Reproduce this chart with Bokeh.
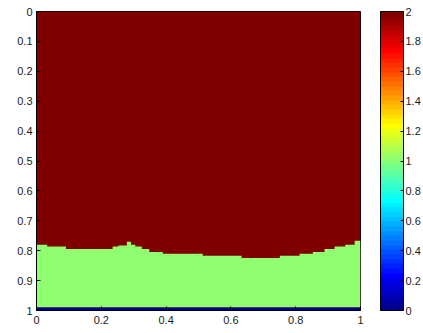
from bokeh.plotting import figure
from bokeh.models import (Range1d, LinearColorMapper, ColorBar, FixedTicker,
                          ColumnDataSource)
from bokeh.embed import file_html
from bokeh.resources import INLINE

# ---- data ----
seg_x0 = [0.0, 0.033, 0.091, 0.235, 0.253, 0.279, 0.292, 0.305, 0.325, 0.348,
          0.390, 0.513, 0.633, 0.751, 0.812, 0.853, 0.889, 0.920, 0.953, 0.982]
seg_x1 = seg_x0[1:] + [1.0]
interface_depth = [0.780, 0.786, 0.794, 0.786, 0.783, 0.770, 0.780, 0.786, 0.794, 0.804,
                   0.810, 0.817, 0.824, 0.817, 0.810, 0.804, 0.794, 0.786, 0.780, 0.767]
upper_value = 2.0
lower_value = 1.0
floor_value = 0.0
floor_top = 0.990

x_ticks = [0, 0.2, 0.4, 0.6, 0.8, 1]
x_tick_labels = ["0", "0.2", "0.4", "0.6", "0.8", "1"]
y_ticks = [0, 0.1, 0.2, 0.3, 0.4, 0.5, 0.6, 0.7, 0.8, 0.9, 1]
y_tick_labels = ["0", "0.1", "0.2", "0.3", "0.4", "0.5", "0.6", "0.7", "0.8", "0.9", "1"]
cbar_ticks = [0, 0.2, 0.4, 0.6, 0.8, 1, 1.2, 1.4, 1.6, 1.8, 2]
cbar_tick_labels = ["0", "0.2", "0.4", "0.6", "0.8", "1", "1.2", "1.4", "1.6", "1.8", "2"]
c_low, c_high = 0.0, 2.0


# MATLAB jet(64) colormap
def jet(m=64):
    import math
    n = math.ceil(m / 4)
    u = [i / n for i in range(1, n + 1)] + [1.0] * (n - 1) + [i / n for i in range(n, 0, -1)]
    g0 = math.ceil(n / 2) - (1 if m % 4 == 1 else 0)
    J = [[0.0, 0.0, 0.0] for _ in range(m)]
    for k, uk in enumerate(u, start=1):
        g = g0 + k
        r = g + n
        b = g - n
        if 1 <= r <= m:
            J[r - 1][0] = uk
        if 1 <= g <= m:
            J[g - 1][1] = uk
        if 1 <= b <= m:
            J[b - 1][2] = uk
    return ["#%02x%02x%02x" % tuple(int(round(c * 255)) for c in row) for row in J]


palette = jet(64)
mapper = LinearColorMapper(palette=palette, low=c_low, high=c_high)

FONT = "Liberation Sans"
TXT = "#1a1a1a"

p = figure(width=423, height=333, output_backend="svg", toolbar_location=None,
           x_range=Range1d(0, 1), y_range=Range1d(1, 0),
           min_border_left=36, min_border_top=11, min_border_bottom=23,
           min_border_right=62, background_fill_color="white",
           border_fill_color="white", outline_line_color="black")
p.grid.visible = False

# upper region
upper = ColumnDataSource(dict(left=[0.0], right=[1.0], top=[0.0], bottom=[1.0],
                              val=[upper_value]))
p.quad(left="left", right="right", top="top", bottom="bottom", source=upper,
       fill_color={"field": "val", "transform": mapper}, line_color=None)

# lower region below the stepped interface, as one polygon
xs_lower, ys_lower = [], []
for x0, x1, d in zip(seg_x0, seg_x1, interface_depth):
    xs_lower += [x0, x1]
    ys_lower += [d, d]
xs_lower += [1.0, 0.0]
ys_lower += [floor_top, floor_top]
lower = ColumnDataSource(dict(xs=[xs_lower], ys=[ys_lower], val=[lower_value]))
p.patches(xs="xs", ys="ys", source=lower,
          fill_color={"field": "val", "transform": mapper}, line_color=None)

# floor row
floor = ColumnDataSource(dict(left=[0.0], right=[1.0], top=[floor_top], bottom=[1.0],
                              val=[floor_value]))
p.quad(left="left", right="right", top="top", bottom="bottom", source=floor,
       fill_color={"field": "val", "transform": mapper}, line_color=None)

for ax, ticks, labels in ((p.xaxis[0], x_ticks, x_tick_labels),
                          (p.yaxis[0], y_ticks, y_tick_labels)):
    ax.ticker = FixedTicker(ticks=ticks)
    ax.major_label_overrides = dict(zip(ticks, labels))
    ax.minor_tick_line_color = None
    ax.major_tick_in = 4
    ax.major_tick_out = 0
    ax.major_tick_line_color = "black"
    ax.axis_line_color = "black"
    ax.major_label_text_font = FONT
    ax.major_label_text_font_size = "11px"
    ax.major_label_text_color = TXT
p.xaxis.major_label_standoff = 5
p.yaxis.major_label_standoff = 4

cb = ColorBar(color_mapper=mapper, ticker=FixedTicker(ticks=cbar_ticks),
              major_label_overrides=dict(zip(cbar_ticks, cbar_tick_labels)),
              width=23, padding=0, margin=0, location=(20, 0),
              major_tick_in=3, major_tick_out=0, major_tick_line_color="black",
              minor_tick_line_color=None,
              bar_line_color="black", label_standoff=2,
              major_label_text_font=FONT, major_label_text_font_size="11px",
              major_label_text_color=TXT,
              background_fill_color=None, border_line_color=None)
p.add_layout(cb, "right")

open("out.html", "w").write(file_html(p, INLINE))
